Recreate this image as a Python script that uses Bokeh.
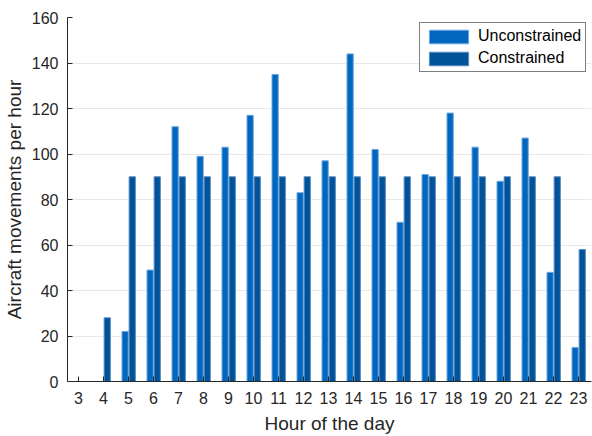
from bokeh.plotting import figure
from bokeh.models import ColumnDataSource, Range1d, FixedTicker, Legend, LegendItem
from bokeh.transform import dodge
from bokeh.embed import file_html
from bokeh.resources import INLINE

hours = list(range(3, 24))
unconstrained = [0, 0, 22, 49, 112, 99, 103, 117, 135, 83, 97, 144, 102, 70, 91, 118, 103, 88, 107, 48, 15]
constrained = [0, 28, 90, 90, 90, 90, 90, 90, 90, 90, 90, 90, 90, 90, 90, 90, 90, 90, 90, 90, 58]
y_ticks = [0, 20, 40, 60, 80, 100, 120, 140, 160]

src = ColumnDataSource(dict(hour=hours, u=unconstrained, c=constrained))

FONT = "Liberation Sans"
TXT = "#262626"

p = figure(width=592, height=436, output_backend="svg", toolbar_location=None,
           x_range=Range1d(2.56, 23.52), y_range=Range1d(0, 160),
           min_border_left=67, min_border_right=1, min_border_top=17, min_border_bottom=53)
p.outline_line_color = None
p.background_fill_color = "white"
p.border_fill_color = "white"

r1 = p.vbar(x=dodge("hour", -0.135, range=p.x_range), top="u", width=0.25, source=src,
            fill_color="#0066c0", line_color="#6fa8de", line_width=1)
r2 = p.vbar(x=dodge("hour", 0.15, range=p.x_range), top="c", width=0.25, source=src,
            fill_color="#005299", line_color="#5d8fc0", line_width=1)

p.xaxis.ticker = FixedTicker(ticks=hours)
p.yaxis.ticker = FixedTicker(ticks=y_ticks)
for ax in (p.xaxis[0], p.yaxis[0]):
    ax.major_tick_in = 5
    ax.major_tick_out = 0
    ax.minor_tick_in = 0
    ax.minor_tick_out = 0
    ax.axis_line_color = TXT
    ax.major_tick_line_color = TXT
    ax.major_label_text_font = FONT
    ax.major_label_text_font_size = "16px"
    ax.major_label_text_color = TXT
    ax.axis_label_text_font = FONT
    ax.axis_label_text_font_size = "19px"
    ax.axis_label_text_font_style = "normal"
    ax.axis_label_text_color = TXT
p.xaxis.axis_label = "Hour of the day"
p.yaxis.axis_label = "Aircraft movements per hour"
p.xaxis.major_label_standoff = 10
p.yaxis.major_label_standoff = 9
p.xaxis.axis_label_standoff = 6
p.yaxis.axis_label_standoff = 4

p.xgrid.grid_line_color = None
p.ygrid.grid_line_color = "#e8e8e8"
p.ygrid.grid_line_width = 1

legend = Legend(items=[LegendItem(label="Unconstrained", renderers=[r1]),
                       LegendItem(label="Constrained", renderers=[r2])],
                location=(352, 309))
legend.glyph_width = 49
legend.glyph_height = 17
legend.label_text_font = FONT
legend.label_text_font_size = "16px"
legend.label_text_color = "black"
legend.border_line_color = "black"
legend.border_line_width = 1
legend.padding = 4
legend.spacing = 4
legend.label_standoff = 5
legend.margin = 0
legend.background_fill_alpha = 1
p.add_layout(legend)

open("out.html", "w").write(file_html(p, INLINE))
